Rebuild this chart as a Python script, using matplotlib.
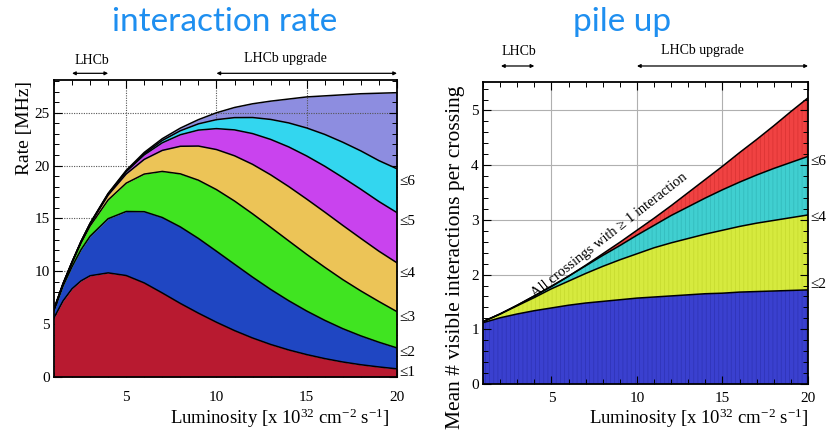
import matplotlib
matplotlib.use('Agg')
import matplotlib.pyplot as plt
import matplotlib.transforms as mtransforms
from matplotlib.ticker import MultipleLocator

plt.rcParams['font.family'] = ['Liberation Serif', 'DejaVu Serif']
plt.rcParams['mathtext.fontset'] = 'custom'
plt.rcParams['mathtext.rm'] = 'Liberation Serif'
plt.rcParams['mathtext.it'] = 'Liberation Serif:italic'
plt.rcParams['hatch.linewidth'] = 0.6

# ---------------- data: interaction rate (MHz) ----------------
lum_rate = [1, 1.5, 2, 2.5, 3, 4, 5, 6, 7, 8, 9, 10, 11, 12, 13, 14, 15, 16, 17, 18, 19, 20]
rate_le1 = [5.6, 7.2, 8.35, 9.1, 9.58, 9.85, 9.6, 8.9, 7.95, 6.96, 6.04, 5.18, 4.39, 3.69, 3.08, 2.56, 2.12, 1.74, 1.42, 1.16, 0.95, 0.77]
rate_le2 = [6.3, 8.6, 10.44, 12.05, 13.32, 14.98, 15.66, 15.64, 15.09, 14.20, 13.11, 11.90, 10.67, 9.45, 8.29, 7.22, 6.24, 5.36, 4.57, 3.89, 3.29, 2.75]
rate_le3 = [6.4, 8.75, 10.81, 12.69, 14.29, 16.75, 18.34, 19.20, 19.45, 19.22, 18.62, 17.73, 16.65, 15.44, 14.17, 12.88, 11.60, 10.38, 9.21, 8.14, 7.14, 6.18]
rate_le4 = [6.4, 8.8, 10.86, 12.79, 14.48, 17.21, 19.21, 20.59, 21.44, 21.83, 21.85, 21.52, 20.93, 20.12, 19.13, 18.02, 16.83, 15.60, 14.34, 13.11, 11.90, 10.8]
rate_le5 = [6.4, 8.8, 10.87, 12.81, 14.51, 17.31, 19.43, 21.02, 22.16, 22.92, 23.36, 23.50, 23.38, 23.03, 22.48, 21.77, 20.91, 19.94, 18.87, 17.76, 16.60, 15.55]
rate_le6 = [6.4, 8.8, 10.87, 12.81, 14.51, 17.33, 19.48, 21.13, 22.38, 23.30, 23.95, 24.35, 24.54, 24.55, 24.37, 24.04, 23.56, 22.95, 22.21, 21.39, 20.47, 19.7]
rate_all = [6.45, 8.85, 10.9, 12.85, 14.55, 17.38, 19.55, 21.25, 22.55, 23.55, 24.35, 25.0, 25.5, 25.85, 26.1, 26.3, 26.5, 26.6, 26.7, 26.8, 26.85, 26.9]
rate_labels = ['≤1', '≤2', '≤3', '≤4', '≤5', '≤6']
rate_label_y = [0.4, 2.3, 5.6, 9.8, 14.7, 18.5]

# ---------------- data: pile up ----------------
lum_pile = [1, 2, 3, 4, 5, 6, 7, 8, 9, 10, 11, 12, 13, 14, 15, 16, 17, 18, 19, 20]
pile_le2 = [1.12, 1.21, 1.28, 1.34, 1.39, 1.44, 1.48, 1.51, 1.54, 1.57, 1.59, 1.61, 1.63, 1.65, 1.66, 1.68, 1.69, 1.70, 1.71, 1.72]
pile_le4 = [1.14, 1.28, 1.43, 1.58, 1.74, 1.88, 2.02, 2.15, 2.27, 2.38, 2.49, 2.58, 2.66, 2.74, 2.81, 2.88, 2.94, 2.99, 3.04, 3.09]
pile_le6 = [1.14, 1.28, 1.44, 1.61, 1.78, 1.97, 2.16, 2.35, 2.53, 2.72, 2.90, 3.08, 3.24, 3.40, 3.55, 3.69, 3.82, 3.94, 4.05, 4.16]
pile_all = [1.14, 1.28, 1.44, 1.61, 1.79, 1.97, 2.17, 2.38, 2.59, 2.81, 3.03, 3.26, 3.50, 3.74, 3.98, 4.23, 4.47, 4.72, 4.98, 5.23]
pile_labels = ['≤2', '≤4', '≤6']
pile_label_y = [1.81, 3.05, 4.06]

rate_colors = ['#b81a30', '#1f46c2', '#40e421', '#ecc457', '#c943ee', '#33d6ef', '#8d8de0']
pile_colors = ['#3a40cf', '#d6ea3e', '#40cfd0', '#f04242']
pile_hatch_colors = ['#3035b8', '#c8dc30', '#34bcbe', '#dc3434']

title_color = '#1e8ff0'

fig = plt.figure(figsize=(8.27, 4.33), dpi=100)
ax1 = fig.add_axes([54/827, 56/433, 343/827, 297/433])
ax2 = fig.add_axes([483/827, 49/433, 325/827, 302/433])

# ---------- left panel ----------
ax1.set_axisbelow(True)
zero = [0.0] * len(lum_rate)
layers = [zero, rate_le1, rate_le2, rate_le3, rate_le4, rate_le5, rate_le6, rate_all]
for i in range(7):
    ax1.fill_between(lum_rate, layers[i], layers[i + 1], color=rate_colors[i], lw=0,
                     zorder=0.4 if i == 6 else 1)
for arr in layers[1:]:
    ax1.plot(lum_rate, arr, color='black', lw=1.1, zorder=3)

for xv in (5, 10, 15):
    ax1.axvline(xv, color='#555555', ls=(0, (1, 1.2)), lw=0.8, zorder=0.5)
for yv in (5, 10, 15, 20, 25):
    ax1.axhline(yv, color='#555555', ls=(0, (1, 1.2)), lw=0.8, zorder=0.5)

ax1.set_xlim(1, 20)
ax1.set_ylim(0, 28.1)
ax1.set_xticks([5, 10, 15, 20])
ax1.set_yticks([0, 5, 10, 15, 20, 25])
ax1.xaxis.set_minor_locator(MultipleLocator(1))
ax1.yaxis.set_minor_locator(MultipleLocator(1))
ax1.tick_params(which='both', direction='in', top=True, right=True, labelsize=11)
ax1.tick_params(which='major', length=6, width=0.8)
ax1.tick_params(which='minor', length=3.5, width=0.7)
ax1.tick_params(axis='x', pad=10)
ax1.tick_params(axis='y', pad=3)
for s in ax1.spines.values():
    s.set_linewidth(1.3)
    s.set_zorder(5)

for lab, yv in zip(rate_labels, rate_label_y):
    ax1.text(20.15, yv, lab, ha='left', va='center', fontsize=11)

ax1.set_ylabel('Rate [MHz]', fontsize=14)
ax1.yaxis.set_label_coords(-0.062, 0.84)
ax1.set_xlabel(r'Luminosity [x 10$^{32}$ cm$^{-2}$ s$^{-1}$]', fontsize=13.5)
ax1.xaxis.set_label_coords(0.657, -0.098)

tr1 = mtransforms.blended_transform_factory(ax1.transData, ax1.transAxes)
arrow_kw = dict(arrowstyle='<|-|>', lw=0.9, color='black', shrinkA=0, shrinkB=0, mutation_scale=5)
ax1.annotate('', xy=(2, 1.0225), xytext=(4, 1.0225), xycoords=tr1, textcoords=tr1,
             arrowprops=arrow_kw, annotation_clip=False)
ax1.annotate('', xy=(10, 1.0225), xytext=(20, 1.0225), xycoords=tr1, textcoords=tr1,
             arrowprops=arrow_kw, annotation_clip=False)
ax1.text(3.1, 1.066, 'LHCb', transform=tr1, ha='center', va='center', fontsize=10)
ax1.text(13.8, 1.072, 'LHCb upgrade', transform=tr1, ha='center', va='center', fontsize=10)

# ---------- right panel ----------
zero2 = [0.0] * len(lum_pile)
players = [zero2, pile_le2, pile_le4, pile_le6, pile_all]
for i in range(4):
    ax2.fill_between(lum_pile, players[i], players[i + 1], facecolor=pile_colors[i],
                     edgecolor=pile_hatch_colors[i], hatch='||||', lw=0, zorder=1)
for arr in players[1:]:
    ax2.plot(lum_pile, arr, color='black', lw=1.1, zorder=3)

for xv in (5, 10, 15):
    ax2.axvline(xv, color='#b0b0b0', lw=0.8, zorder=0.5)
for yv in (1, 2, 3, 4, 5):
    ax2.axhline(yv, color='#b0b0b0', lw=0.8, zorder=0.5)

ax2.set_xlim(1, 20)
ax2.set_ylim(0, 5.52)
ax2.set_xticks([5, 10, 15, 20])
ax2.set_yticks([0, 1, 2, 3, 4, 5])
ax2.xaxis.set_minor_locator(MultipleLocator(1))
ax2.yaxis.set_minor_locator(MultipleLocator(0.2))
ax2.tick_params(which='both', direction='in', top=True, right=True, labelsize=11)
ax2.tick_params(which='major', length=6, width=0.8)
ax2.tick_params(which='minor', length=3.5, width=0.7)
ax2.tick_params(axis='x', pad=6)
ax2.tick_params(axis='y', pad=3)
for s in ax2.spines.values():
    s.set_linewidth(1.3)
    s.set_zorder(5)

for lab, yv in zip(pile_labels, pile_label_y):
    ax2.text(20.15, yv, lab, ha='left', va='center', fontsize=11)

ax2.text(8.6, 2.62, 'All crossings with ≥ 1 interaction', rotation=38, rotation_mode='anchor',
         ha='center', va='bottom', fontsize=10.5, zorder=4)

ax2.set_ylabel('Mean # visible interactions per crossing', fontsize=15.5)
ax2.yaxis.set_label_coords(-0.055, 0.42)
ax2.set_xlabel(r'Luminosity [x 10$^{32}$ cm$^{-2}$ s$^{-1}$]', fontsize=13.5)
ax2.xaxis.set_label_coords(0.665, -0.075)

tr2 = mtransforms.blended_transform_factory(ax2.transData, ax2.transAxes)
ax2.annotate('', xy=(2.05, 1.053), xytext=(4, 1.053), xycoords=tr2, textcoords=tr2,
             arrowprops=arrow_kw, annotation_clip=False)
ax2.annotate('', xy=(10, 1.053), xytext=(20, 1.053), xycoords=tr2, textcoords=tr2,
             arrowprops=arrow_kw, annotation_clip=False)
ax2.text(3.1, 1.1, 'LHCb', transform=tr2, ha='center', va='center', fontsize=10)
ax2.text(13.8, 1.103, 'LHCb upgrade', transform=tr2, ha='center', va='center', fontsize=10)

# ---------- titles ----------
fig.text(225/827, 1 - 22/433, 'interaction rate', ha='center', va='center',
         fontsize=24, color=title_color, family=['Lato', 'DejaVu Sans'])
fig.text(622/827, 1 - 22/433, 'pile up', ha='center', va='center',
         fontsize=24, color=title_color, family=['Lato', 'DejaVu Sans'])

fig.savefig('out.png', dpi=100)
